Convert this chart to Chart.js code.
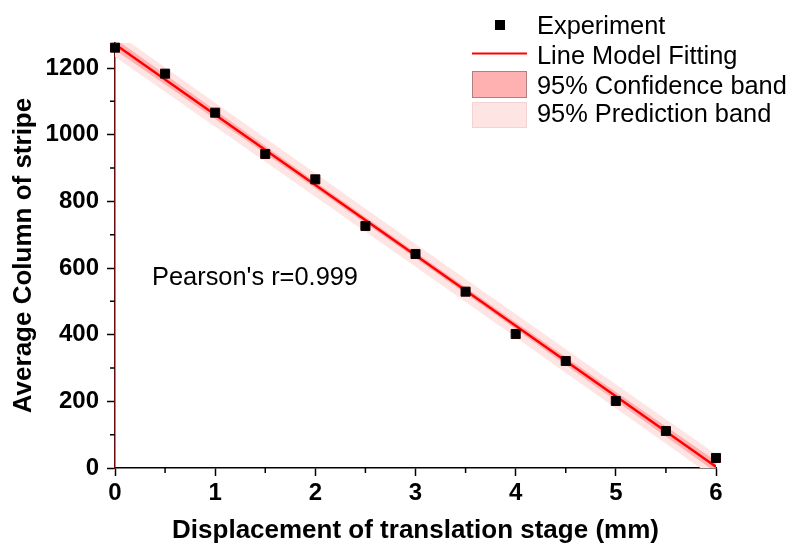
<!DOCTYPE html>
<html>
<head>
<meta charset="utf-8">
<script src="https://cdn.jsdelivr.net/npm/chart.js@4.4.0/dist/chart.umd.min.js"></script>
<style>
    body { margin: 0; background: #fff; }
    #box { width: 791px; height: 550px; }
</style>
</head>
<body>
<div id="box"><canvas id="myChart"></canvas></div>
<script>
    // measured points: displacement (mm) vs average column of stripe
    var displacement = [0, 0.5, 1, 1.5, 2, 2.5, 3, 3.5, 4, 4.5, 5, 5.5, 6];
    var avgColumn = [1261, 1183, 1066, 942, 866, 726, 642, 529, 402, 321, 201, 111, 30];

    var fitX = [0, 1, 2, 3, 4, 5, 6];
    var fitY = [1271, 1060, 849, 638, 427, 215, 4];
    var confHalf = [17, 13, 10, 9, 10, 13, 17];
    var predHalf = [37, 36, 35, 34, 35, 36, 37];

    var legendLabels = ["Experiment", "Line Model Fitting", "95% Confidence band", "95% Prediction band"];
    var pearsonText = "Pearson's r=0.999";

    var confColor = "#FFB0B0";
    var predColor = "#FFE4E4";

    function pts(xs, ys, off, sign) {
        var out = [];
        for (var i = 0; i < xs.length; i++) {
            out.push({ x: xs[i], y: ys[i] + (off ? sign * off[i] : 0) });
        }
        return out;
    }

    // minor ticks, legend box and the r label
    var extras = {
        id: "extras",
        afterDraw: function (chart) {
            var ctx = chart.ctx;
            var xs = chart.scales.x, ys = chart.scales.y;
            ctx.save();
            ctx.strokeStyle = "#000";
            ctx.lineWidth = 1.5;
            ctx.beginPath();
            for (var v = 0.5; v < 6; v += 1) {
                var px = xs.getPixelForValue(v);
                ctx.moveTo(px, xs.top);
                ctx.lineTo(px, xs.top + 5);
            }
            for (var w = 100; w < 1275; w += 200) {
                var py = ys.getPixelForValue(w);
                ctx.moveTo(ys.right, py);
                ctx.lineTo(ys.right - 5, py);
            }
            ctx.stroke();

            // legend
            ctx.fillStyle = "#000";
            ctx.fillRect(495, 20, 10, 10);
            ctx.strokeStyle = "#FF0000";
            ctx.lineWidth = 2;
            ctx.beginPath();
            ctx.moveTo(472, 53.5);
            ctx.lineTo(527, 53.5);
            ctx.stroke();
            ctx.fillStyle = confColor;
            ctx.fillRect(472, 71, 55, 27);
            ctx.strokeStyle = "#B08080";
            ctx.lineWidth = 1;
            ctx.strokeRect(472.5, 71.5, 54, 26);
            ctx.fillStyle = predColor;
            ctx.fillRect(472, 102, 55, 26);
            ctx.strokeStyle = "#F2D2D2";
            ctx.strokeRect(472.5, 102.5, 54, 25);

            ctx.fillStyle = "#000";
            ctx.font = "25.4px 'Liberation Sans', Arial, sans-serif";
            ctx.textBaseline = "alphabetic";
            ctx.textAlign = "left";
            var base = [33.5, 63.5, 93.5, 122];
            for (var i = 0; i < legendLabels.length; i++) {
                ctx.fillText(legendLabels[i], 537, base[i]);
            }
            ctx.fillText(pearsonText, 152, 285);
            ctx.restore();
        }
    };

    var boldFont = { family: "'Liberation Sans', Arial, sans-serif", size: 24, weight: "bold" };
    var titleFont = { family: "'Liberation Sans', Arial, sans-serif", size: 26, weight: "bold" };
    var plain = function (v) { return String(v); };

    new Chart("myChart", {
        type: "scatter",
        data: {
            datasets: [{
                label: legendLabels[0],
                data: pts(displacement, avgColumn),
                pointStyle: "rect",
                pointRadius: 6.4,
                pointHoverRadius: 6.4,
                backgroundColor: "#000",
                borderColor: "#1a0000",
                borderWidth: 1,
                clip: false
            }, {
                label: legendLabels[1],
                type: "line",
                data: pts(fitX, fitY),
                borderColor: "#FF0000",
                borderWidth: 2.5,
                pointRadius: 0,
                fill: false
            }, {
                label: "conf upper",
                type: "line",
                data: pts(fitX, fitY, confHalf, 1),
                borderWidth: 0,
                pointRadius: 0,
                backgroundColor: confColor,
                fill: "+1"
            }, {
                label: "conf lower",
                type: "line",
                data: pts(fitX, fitY, confHalf, -1),
                borderWidth: 0,
                pointRadius: 0,
                fill: false
            }, {
                label: "pred upper",
                type: "line",
                data: pts(fitX, fitY, predHalf, 1),
                borderWidth: 0,
                pointRadius: 0,
                backgroundColor: predColor,
                fill: "+1"
            }, {
                label: "pred lower",
                type: "line",
                data: pts(fitX, fitY, predHalf, -1),
                borderWidth: 0,
                pointRadius: 0,
                fill: false
            }]
        },
        options: {
            responsive: true,
            maintainAspectRatio: false,
            animation: false,
            layout: { padding: { top: 43, right: 75, left: 0, bottom: 0 } },
            plugins: {
                legend: { display: false },
                tooltip: { enabled: false }
            },
            scales: {
                x: {
                    type: "linear",
                    min: 0,
                    max: 6,
                    afterFit: function (s) { s.height = 82; },
                    ticks: { stepSize: 1, color: "#000", font: boldFont, padding: 3, callback: plain },
                    grid: { drawOnChartArea: false, tickLength: 8, tickWidth: 1.5, tickColor: "#000" },
                    border: { color: "#000", width: 1.5 },
                    title: {
                        display: true,
                        text: "Displacement of translation stage (mm)",
                        color: "#000",
                        font: titleFont,
                        padding: { top: 0, bottom: 4 }
                    }
                },
                y: {
                    type: "linear",
                    min: 0,
                    max: 1275,
                    afterFit: function (s) { s.width = 115; },
                    ticks: { stepSize: 200, includeBounds: false, color: "#000", font: boldFont, padding: 8, callback: plain },
                    grid: { drawOnChartArea: false, tickLength: 8, tickWidth: 1.5, tickColor: "#000" },
                    border: { color: "#6b0a0a", width: 1.5 },
                    title: {
                        display: true,
                        text: "Average Column of stripe",
                        color: "#000",
                        font: titleFont,
                        padding: { top: 8, bottom: 0 }
                    }
                }
            }
        },
        plugins: [extras]
    });
</script>
</body>
</html>
